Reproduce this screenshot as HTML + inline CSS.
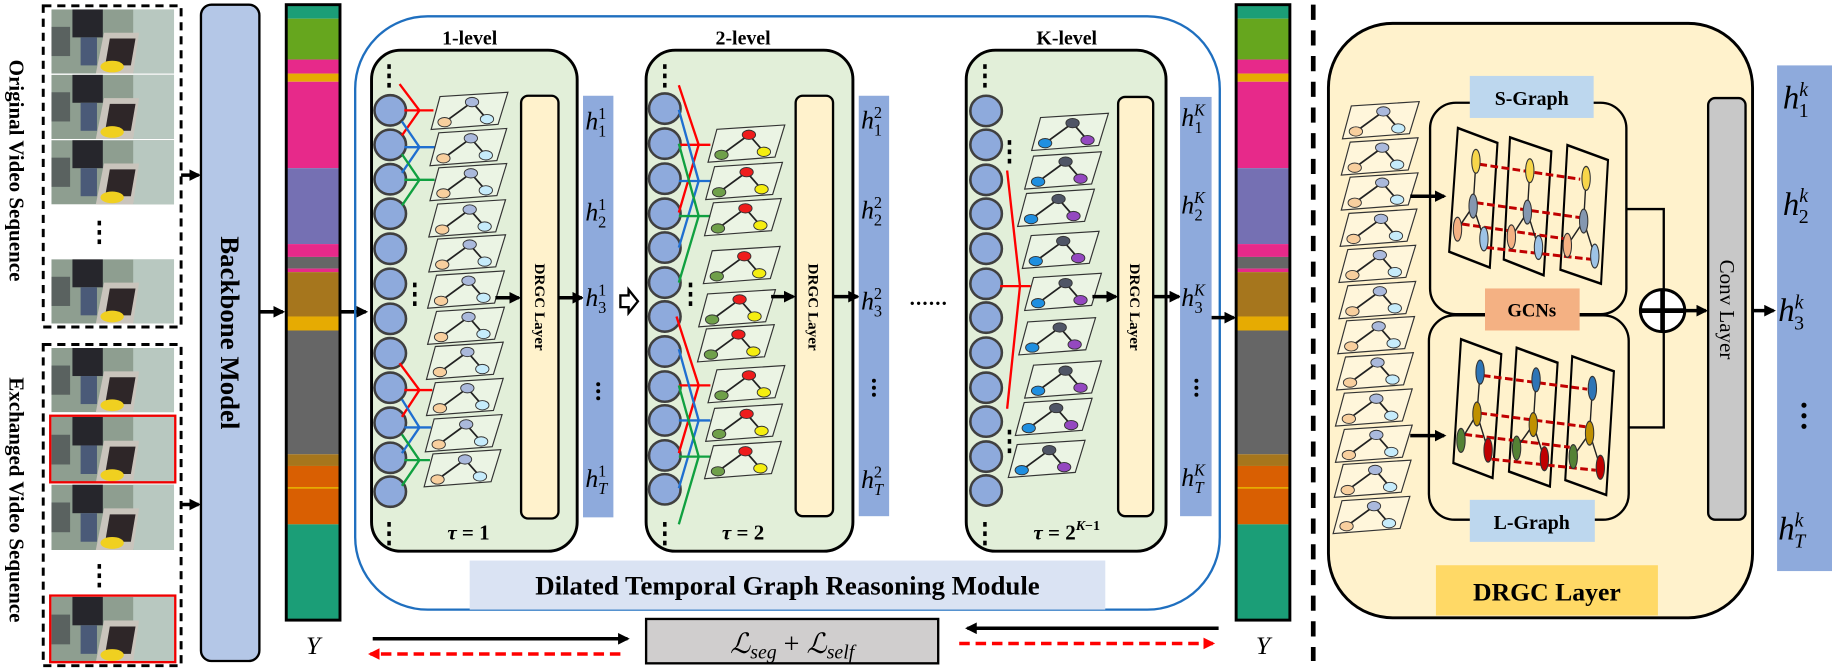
<!DOCTYPE html>
<html><head><meta charset="utf-8"><style>
html,body{margin:0;padding:0;background:#fff;}
svg{display:block;}
</style></head><body>
<svg width="1832" height="668" viewBox="0 0 1568 572" preserveAspectRatio="none" xmlns="http://www.w3.org/2000/svg" font-family="'Liberation Serif', serif">
<defs>
<marker id="ah" markerWidth="10" markerHeight="10" refX="8" refY="5" orient="auto" markerUnits="userSpaceOnUse"><path d="M0,0 L10,5 L0,10 z" fill="#000"/></marker>
<marker id="ahr" markerWidth="10" markerHeight="10" refX="8" refY="5" orient="auto" markerUnits="userSpaceOnUse"><path d="M0,0 L10,5 L0,10 z" fill="#f00"/></marker>
<symbol id="thumb" viewBox="0 0 105 55" width="105" height="55" preserveAspectRatio="none" overflow="hidden">
<rect width="105" height="55" fill="#8e9e90"/>
<rect x="70" width="35" height="55" fill="#b8c8c0"/>
<polygon points="45,20 75,20 70,55 38,55" fill="#c9c4bc"/>
<polygon points="50,25 72,25 68,48 46,48" fill="#2e2628"/>
<rect x="18" y="0" width="26" height="24" fill="#26262c"/>
<rect x="25" y="24" width="14" height="24" fill="#4a5a78"/>
<ellipse cx="52" cy="49" rx="10" ry="5" fill="#f0d020"/>
<rect x="0" y="15" width="16" height="25" fill="#5a6260"/>
</symbol>
<g id="cardA"><polygon points="7.6,3.7 65.7,0 57.3,27.5 0,31.9" fill="#fff" fill-opacity="0.3" stroke="#333" stroke-width="1"/><path d="M35,8.4 L11.5,25.6 M35,8.4 L47.8,23" stroke="#222" stroke-width="1.5"/><ellipse cx="35" cy="8.4" rx="5.7" ry="4" fill="#aab9dc" stroke="#333" stroke-width="0.8"/><ellipse cx="11.5" cy="25.6" rx="5.7" ry="4" fill="#f8cf9e" stroke="#333" stroke-width="0.8"/><ellipse cx="47.8" cy="23" rx="5.7" ry="4" fill="#c6ecfb" stroke="#333" stroke-width="0.8"/></g>
<g id="cardB"><polygon points="7.6,3.7 65.7,0 57.3,27.5 0,31.9" fill="#fff" fill-opacity="0.3" stroke="#333" stroke-width="1"/><path d="M35,8.4 L11.5,25.6 M35,8.4 L47.8,23" stroke="#222" stroke-width="1.5"/><ellipse cx="35" cy="8.4" rx="5.7" ry="4" fill="#ee1c1c" stroke="#333" stroke-width="0.8"/><ellipse cx="11.5" cy="25.6" rx="5.7" ry="4" fill="#6fa04a" stroke="#333" stroke-width="0.8"/><ellipse cx="47.8" cy="23" rx="5.7" ry="4" fill="#f5ee10" stroke="#333" stroke-width="0.8"/></g>
<g id="cardK"><polygon points="7.6,3.7 65.7,0 57.3,27.5 0,31.9" fill="#fff" fill-opacity="0.3" stroke="#333" stroke-width="1"/><path d="M35,8.4 L11.5,25.6 M35,8.4 L47.8,23" stroke="#222" stroke-width="1.5"/><ellipse cx="35" cy="8.4" rx="5.7" ry="4" fill="#4f5566" stroke="#333" stroke-width="0.8"/><ellipse cx="11.5" cy="25.6" rx="5.7" ry="4" fill="#1f8fe0" stroke="#333" stroke-width="0.8"/><ellipse cx="47.8" cy="23" rx="5.7" ry="4" fill="#9448c0" stroke="#333" stroke-width="0.8"/></g>
<g id="circ"><ellipse cx="0" cy="0" rx="13.5" ry="13" fill="#8eaadc" stroke="#404040" stroke-width="2.2"/></g>
<g id="vdots"><rect x="-1.5" y="0" width="3" height="4" fill="#000"/><rect x="-1.5" y="8" width="3" height="4" fill="#000"/><rect x="-1.5" y="16" width="3" height="4" fill="#000"/></g>
</defs>

<!-- left video sequences -->
<rect x="37" y="5" width="118" height="275" fill="none" stroke="#000" stroke-width="2.5" stroke-dasharray="7,5"/>
<use href="#thumb" x="44" y="8" width="105" height="55"/>
<use href="#thumb" x="44" y="64" width="105" height="55"/>
<use href="#thumb" x="44" y="120" width="105" height="55"/>
<use href="#vdots" x="85" y="189"/>
<use href="#thumb" x="44" y="222" width="105" height="55"/>
<rect x="37" y="295" width="118" height="275" fill="none" stroke="#000" stroke-width="2.5" stroke-dasharray="7,5"/>
<use href="#thumb" x="44" y="298" width="105" height="55"/>
<use href="#thumb" x="44" y="357" width="105" height="56"/>
<rect x="43" y="356" width="107" height="57" fill="none" stroke="#e00" stroke-width="2"/>
<use href="#thumb" x="44" y="415" width="105" height="56"/>
<use href="#vdots" x="85" y="483"/>
<use href="#thumb" x="44" y="511" width="105" height="56"/>
<rect x="43" y="510" width="107" height="57" fill="none" stroke="#e00" stroke-width="2"/>
<text transform="translate(8,146) rotate(90)" text-anchor="middle" font-weight="bold" font-size="18">Original Video Sequence</text>
<text transform="translate(8,428) rotate(90)" text-anchor="middle" font-weight="bold" font-size="18">Exchanged Video Sequence</text>
<line x1="155" y1="150" x2="170" y2="150" stroke="#000" stroke-width="3" marker-end="url(#ah)"/>
<line x1="155" y1="432" x2="170" y2="432" stroke="#000" stroke-width="3" marker-end="url(#ah)"/>

<!-- backbone -->
<rect x="172" y="4" width="50" height="562" rx="9" fill="#b4c7e7" stroke="#000" stroke-width="2"/>
<text transform="translate(189,285) rotate(90)" text-anchor="middle" font-weight="bold" font-size="23">Backbone Model</text>
<line x1="222" y1="267" x2="242" y2="267" stroke="#000" stroke-width="3" marker-end="url(#ah)"/>

<!-- color bar 1 -->
<g id="bar">
<rect x="245" y="4" width="46" height="12" fill="#1b9e77"/>
<rect x="245" y="16" width="46" height="35" fill="#66a61e"/>
<rect x="245" y="51" width="46" height="12" fill="#e7298a"/>
<rect x="245" y="63" width="46" height="7" fill="#e6ab02"/>
<rect x="245" y="70" width="46" height="74" fill="#e7298a"/>
<rect x="245" y="144" width="46" height="65" fill="#7570b3"/>
<rect x="245" y="209" width="46" height="11" fill="#e7298a"/>
<rect x="245" y="220" width="46" height="10" fill="#666"/>
<rect x="245" y="230" width="46" height="3" fill="#e7298a"/>
<rect x="245" y="233" width="46" height="38" fill="#a6761d"/>
<rect x="245" y="271" width="46" height="12" fill="#e6ab02"/>
<rect x="245" y="283" width="46" height="106" fill="#666"/>
<rect x="245" y="389" width="46" height="10" fill="#a6761d"/>
<rect x="245" y="399" width="46" height="50" fill="#d95f02"/>
<rect x="245" y="417" width="46" height="1.5" fill="#e6ab02"/>
<rect x="245" y="449" width="46" height="82" fill="#1b9e77"/>
<rect x="245" y="4" width="46" height="527" fill="none" stroke="#000" stroke-width="2.5"/>
</g>
<text x="268" y="560" text-anchor="middle" font-style="italic" font-size="22">Y</text>
<line x1="291" y1="267" x2="313" y2="267" stroke="#000" stroke-width="3" marker-end="url(#ah)"/>

<!-- module -->
<rect x="304" y="14" width="740" height="508" rx="62" fill="none" stroke="#1f6fbf" stroke-width="2"/>
<rect x="402" y="480" width="544" height="42" fill="#dae3f3"/>
<text x="674" y="509" text-anchor="middle" font-weight="bold" font-size="23">Dilated Temporal Graph Reasoning Module</text>

<!-- level 1 -->
<text x="402" y="38" text-anchor="middle" font-weight="bold" font-size="17">1-level</text>
<rect x="318" y="43" width="176" height="429" rx="25" fill="#e2efd9" stroke="#000" stroke-width="2.5"/>
<use href="#vdots" x="333" y="55"/><use href="#vdots" x="333" y="447"/>
<g>
<use href="#circ" x="334" y="94.5"/><use href="#circ" x="334" y="124"/><use href="#circ" x="334" y="153.5"/><use href="#circ" x="334" y="183"/><use href="#circ" x="334" y="213"/><use href="#circ" x="334" y="243"/><use href="#circ" x="334" y="273"/><use href="#circ" x="334" y="302.5"/><use href="#circ" x="334" y="332"/><use href="#circ" x="334" y="362"/><use href="#circ" x="334" y="392"/><use href="#circ" x="334" y="421"/>
</g>
<use href="#vdots" x="355" y="242"/>
<g fill="none" stroke-width="2">
<path d="M342,72 L359,94.5 L344,116 M346,94.5 L371,94.5" stroke="#f00"/>
<path d="M344,104 L359,126 L344,148 M346,126 L372,126" stroke="#1f6fd0"/>
<path d="M344,132 L359,154 L344,176 M346,154 L372,154" stroke="#10a040"/>
<path d="M342,311 L359,334 L344,357 M346,334 L370,334" stroke="#f00"/>
<path d="M344,342 L359,366 L344,388 M346,366 L369,366" stroke="#1f6fd0"/>
<path d="M344,372 L359,394 L344,416 M346,394 L368,394" stroke="#10a040"/>
</g>
<use href="#cardA" x="369" y="79"/><use href="#cardA" x="368" y="110"/><use href="#cardA" x="368" y="140"/><use href="#cardA" x="367" y="171"/><use href="#cardA" x="367" y="201"/><use href="#cardA" x="366" y="232"/><use href="#cardA" x="366" y="263"/><use href="#cardA" x="365" y="293"/><use href="#cardA" x="365" y="324"/><use href="#cardA" x="364" y="355"/><use href="#cardA" x="363" y="385"/>
<rect x="446" y="82" width="32" height="362" rx="6" fill="#fff2cc" stroke="#000" stroke-width="2"/>
<text transform="translate(458,263) rotate(90)" text-anchor="middle" font-weight="bold" font-size="13">DRGC Layer</text>
<line x1="424" y1="255" x2="444" y2="255" stroke="#000" stroke-width="3" marker-end="url(#ah)"/>
<line x1="478" y1="255" x2="498" y2="255" stroke="#000" stroke-width="3" marker-end="url(#ah)"/>
<rect x="499" y="82" width="26" height="361" fill="#8eaadc"/>
<text x="401" y="462" text-anchor="middle" font-weight="bold" font-size="18"><tspan font-style="italic">τ</tspan> = 1</text>
<path d="M531,253 L538,253 L538,248 L546,258 L538,268 L538,263 L531,263 Z" fill="#fff" stroke="#000" stroke-width="2"/>

<!-- level 2 -->
<text x="636" y="38" text-anchor="middle" font-weight="bold" font-size="17">2-level</text>
<rect x="553" y="43" width="177" height="429" rx="25" fill="#e2efd9" stroke="#000" stroke-width="2.5"/>
<use href="#vdots" x="569" y="55"/><use href="#vdots" x="569" y="447"/>
<use href="#circ" x="569" y="93"/><use href="#circ" x="569" y="123"/><use href="#circ" x="569" y="153"/><use href="#circ" x="569" y="183"/><use href="#circ" x="569" y="212"/><use href="#circ" x="569" y="242"/><use href="#circ" x="569" y="271"/><use href="#circ" x="569" y="301"/><use href="#circ" x="569" y="331"/><use href="#circ" x="569" y="360"/><use href="#circ" x="569" y="390"/><use href="#circ" x="569" y="419"/>
<use href="#vdots" x="591" y="242"/>
<g fill="none" stroke-width="2">
<path d="M581,73 L598,124 L581,182 M581,124 L608,124" stroke="#f00"/>
<path d="M581,94 L598,155 L581,212 M581,155 L608,155" stroke="#1f6fd0"/>
<path d="M581,123 L598,185 L581,242 M581,185 L608,185" stroke="#10a040"/>
<path d="M579,271 L598,330 L581,388 M581,330 L608,330" stroke="#f00"/>
<path d="M581,299 L598,360 L581,418 M581,360 L608,360" stroke="#1f6fd0"/>
<path d="M581,330 L598,391 L581,449 M581,391 L608,391" stroke="#10a040"/>
</g>
<use href="#cardB" x="606" y="107"/><use href="#cardB" x="604" y="139"/><use href="#cardB" x="603" y="170"/><use href="#cardB" x="602" y="211"/><use href="#cardB" x="598" y="248"/><use href="#cardB" x="597" y="278"/><use href="#cardB" x="606" y="313"/><use href="#cardB" x="604" y="346"/><use href="#cardB" x="603" y="378"/>
<rect x="681" y="82" width="32" height="360" rx="6" fill="#fff2cc" stroke="#000" stroke-width="2"/>
<text transform="translate(692,263) rotate(90)" text-anchor="middle" font-weight="bold" font-size="13">DRGC Layer</text>
<line x1="660" y1="254" x2="679" y2="254" stroke="#000" stroke-width="3" marker-end="url(#ah)"/>
<line x1="713" y1="254" x2="734" y2="254" stroke="#000" stroke-width="3" marker-end="url(#ah)"/>
<rect x="735" y="82" width="26" height="360" fill="#8eaadc"/>
<text x="636" y="462" text-anchor="middle" font-weight="bold" font-size="18"><tspan font-style="italic">τ</tspan> = 2</text>
<text x="795" y="261" text-anchor="middle" font-weight="bold" font-size="18" letter-spacing="1">......</text>

<!-- level K -->
<text x="913" y="38" text-anchor="middle" font-weight="bold" font-size="17">K-level</text>
<rect x="827" y="43" width="171" height="429" rx="25" fill="#e2efd9" stroke="#000" stroke-width="2.5"/>
<use href="#vdots" x="843" y="55"/><use href="#vdots" x="843" y="447"/>
<use href="#circ" x="844" y="95"/><use href="#circ" x="844" y="124"/><use href="#circ" x="844" y="154"/><use href="#circ" x="844" y="183"/><use href="#circ" x="844" y="213"/><use href="#circ" x="844" y="243"/><use href="#circ" x="844" y="272"/><use href="#circ" x="844" y="302"/><use href="#circ" x="844" y="332"/><use href="#circ" x="844" y="361"/><use href="#circ" x="844" y="391"/><use href="#circ" x="844" y="420"/>
<use href="#vdots" x="864" y="120"/><use href="#vdots" x="864" y="368"/>
<path d="M862,146 L873,245 L862,350 M856,245 L882,245" fill="none" stroke="#f00" stroke-width="2"/>
<use href="#cardK" x="883" y="97"/><use href="#cardK" x="877" y="130"/><use href="#cardK" x="871" y="162"/><use href="#cardK" x="875" y="198"/><use href="#cardK" x="877" y="234"/><use href="#cardK" x="872" y="272"/><use href="#cardK" x="877" y="309"/><use href="#cardK" x="869" y="341"/><use href="#cardK" x="863" y="377"/>
<rect x="957" y="83" width="30" height="359" rx="6" fill="#fff2cc" stroke="#000" stroke-width="2"/>
<text transform="translate(967,263) rotate(90)" text-anchor="middle" font-weight="bold" font-size="13">DRGC Layer</text>
<line x1="935" y1="254" x2="955" y2="254" stroke="#000" stroke-width="3" marker-end="url(#ah)"/>
<line x1="987" y1="254" x2="1009" y2="254" stroke="#000" stroke-width="3" marker-end="url(#ah)"/>
<rect x="1010" y="83" width="27" height="359" fill="#8eaadc"/>
<text x="913" y="462" text-anchor="middle" font-weight="bold" font-size="18"><tspan font-style="italic">τ</tspan> = 2<tspan font-size="12" dy="-8" font-style="italic">K</tspan><tspan font-size="12">−1</tspan></text>

<!-- h labels -->
<g font-style="italic" font-size="22">
<text x="501" y="111">h<tspan font-size="14" font-style="normal" dy="-9">1</tspan><tspan font-size="14" font-style="normal" dx="-7" dy="15">1</tspan></text>
<text x="501" y="189">h<tspan font-size="14" font-style="normal" dy="-9">1</tspan><tspan font-size="14" font-style="normal" dx="-7" dy="15">2</tspan></text>
<text x="501" y="262">h<tspan font-size="14" font-style="normal" dy="-9">1</tspan><tspan font-size="14" font-style="normal" dx="-7" dy="15">3</tspan></text>
<text x="501" y="417">h<tspan font-size="14" font-style="normal" dy="-9">1</tspan><tspan font-size="14" dx="-7" dy="15">T</tspan></text>
<text x="737" y="110">h<tspan font-size="14" font-style="normal" dy="-9">2</tspan><tspan font-size="14" font-style="normal" dx="-7" dy="15">1</tspan></text>
<text x="737" y="187">h<tspan font-size="14" font-style="normal" dy="-9">2</tspan><tspan font-size="14" font-style="normal" dx="-7" dy="15">2</tspan></text>
<text x="737" y="265">h<tspan font-size="14" font-style="normal" dy="-9">2</tspan><tspan font-size="14" font-style="normal" dx="-7" dy="15">3</tspan></text>
<text x="737" y="418">h<tspan font-size="14" font-style="normal" dy="-9">2</tspan><tspan font-size="14" dx="-7" dy="15">T</tspan></text>
<text x="1011" y="108">h<tspan font-size="14" dy="-9">K</tspan><tspan font-size="14" font-style="normal" dx="-9" dy="15">1</tspan></text>
<text x="1011" y="183">h<tspan font-size="14" dy="-9">K</tspan><tspan font-size="14" font-style="normal" dx="-9" dy="15">2</tspan></text>
<text x="1011" y="262">h<tspan font-size="14" dy="-9">K</tspan><tspan font-size="14" font-style="normal" dx="-9" dy="15">3</tspan></text>
<text x="1011" y="416">h<tspan font-size="14" dy="-9">K</tspan><tspan font-size="14" dx="-9" dy="15">T</tspan></text>
</g>
<g fill="#000">
<circle cx="512" cy="329" r="1.7"/><circle cx="512" cy="335" r="1.7"/><circle cx="512" cy="341" r="1.7"/>
<circle cx="748" cy="326" r="1.7"/><circle cx="748" cy="332" r="1.7"/><circle cx="748" cy="338" r="1.7"/>
<circle cx="1024" cy="326" r="1.7"/><circle cx="1024" cy="332" r="1.7"/><circle cx="1024" cy="338" r="1.7"/>
</g>

<!-- color bar 2 -->
<line x1="1037" y1="272" x2="1056" y2="272" stroke="#000" stroke-width="3" marker-end="url(#ah)"/>
<use href="#bar" x="813" y="0"/>
<text x="1081" y="560" text-anchor="middle" font-style="italic" font-size="22">Y</text>

<!-- loss -->
<line x1="319" y1="547" x2="537" y2="547" stroke="#000" stroke-width="3" marker-end="url(#ah)"/>
<line x1="531" y1="560" x2="317" y2="560" stroke="#f00" stroke-width="3" stroke-dasharray="9,5" marker-end="url(#ahr)"/>
<rect x="553" y="530" width="250" height="38" fill="#d0cece" stroke="#000" stroke-width="2"/>
<text x="678" y="559" text-anchor="middle" font-size="24" font-style="italic">ℒ<tspan font-size="17" dy="5">seg</tspan><tspan dy="-5" font-style="normal"> + </tspan>ℒ<tspan font-size="17" dy="5">self</tspan></text>
<line x1="1043" y1="538" x2="828" y2="538" stroke="#000" stroke-width="3" marker-end="url(#ah)"/>
<line x1="821" y1="551" x2="1038" y2="551" stroke="#f00" stroke-width="3" stroke-dasharray="9,5" marker-end="url(#ahr)"/>

<!-- separator -->
<line x1="1124" y1="4" x2="1124" y2="566" stroke="#000" stroke-width="4" stroke-dasharray="13,9"/>

<!-- DRGC right panel -->
<rect x="1137" y="20" width="363" height="509" rx="55" fill="#fff2cc" stroke="#000" stroke-width="2.5"/>
<rect x="1224" y="88" width="168" height="181" rx="22" fill="none" stroke="#000" stroke-width="2"/>
<rect x="1223" y="270" width="171" height="175" rx="22" fill="none" stroke="#000" stroke-width="2"/>
<rect x="1258" y="65" width="106" height="36" fill="#bdd7ee"/>
<text x="1311" y="90" text-anchor="middle" font-weight="bold" font-size="17">S-Graph</text>
<rect x="1258" y="428" width="107" height="36" fill="#bdd7ee"/>
<text x="1311" y="453" text-anchor="middle" font-weight="bold" font-size="17">L-Graph</text>
<rect x="1271" y="247" width="81" height="36" fill="#f4b183"/>
<text x="1311" y="271" text-anchor="middle" font-weight="bold" font-size="16">GCNs</text>
<use href="#cardA" x="1149" y="87"/><use href="#cardA" x="1148" y="118"/><use href="#cardA" x="1148" y="148"/><use href="#cardA" x="1147" y="179"/><use href="#cardA" x="1146" y="210"/><use href="#cardA" x="1146" y="241"/><use href="#cardA" x="1145" y="271"/><use href="#cardA" x="1144" y="302"/><use href="#cardA" x="1143" y="333"/><use href="#cardA" x="1143" y="364"/><use href="#cardA" x="1142" y="394"/><use href="#cardA" x="1141" y="425"/>
<line x1="1207" y1="168" x2="1236" y2="168" stroke="#000" stroke-width="3" marker-end="url(#ah)"/>
<line x1="1207" y1="373" x2="1236" y2="373" stroke="#000" stroke-width="3" marker-end="url(#ah)"/>
<g transform="translate(1113,0) scale(0.2975,0.3654)">
<g fill="none" stroke="#000" stroke-width="6">
<polygon points="453,300 567,335 545,627 428,590"/>
<polygon points="603,322 722,355 700,645 585,608"/>
<polygon points="768,340 885,375 865,665 748,632"/>
<polygon points="462,795 578,830 553,1120 440,1085"/>
<polygon points="622,815 740,850 718,1140 600,1105"/>
<polygon points="782,835 902,870 880,1160 762,1125"/>
</g>
<g stroke="#c00000" stroke-width="7" stroke-dasharray="22,10" fill="none">
<path d="M515,385 L805,420 M505,475 L805,510 M465,525 L765,560 M535,580 L840,608"/>
<path d="M525,880 L825,912 M515,968 L820,1000 M472,1018 L775,1048 M550,1076 L850,1102"/>
</g>
<g stroke="#222" stroke-width="4" fill="none">
<path d="M505,378 L497,483 L452,537 M497,483 L528,560 M660,400 L653,497 L607,555 M653,497 L685,580 M822,418 L815,518 L768,575 M815,518 L847,600"/>
<path d="M517,872 L508,970 L462,1032 M508,970 L540,1055 M678,890 L670,995 L622,1050 M670,995 L702,1075 M840,910 L832,1015 L785,1070 M832,1015 L863,1095"/>
</g>
<g stroke="#333" stroke-width="3">
<ellipse cx="505" cy="378" rx="12" ry="28" fill="#f7d64a"/><ellipse cx="660" cy="400" rx="12" ry="28" fill="#f7d64a"/><ellipse cx="822" cy="418" rx="12" ry="28" fill="#f7d64a"/>
<ellipse cx="497" cy="483" rx="12" ry="28" fill="#8497b0"/><ellipse cx="653" cy="497" rx="12" ry="28" fill="#8497b0"/><ellipse cx="815" cy="518" rx="12" ry="28" fill="#8497b0"/>
<ellipse cx="452" cy="537" rx="12" ry="28" fill="#f4b183"/><ellipse cx="607" cy="555" rx="12" ry="28" fill="#f4b183"/><ellipse cx="768" cy="575" rx="12" ry="28" fill="#f4b183"/>
<ellipse cx="528" cy="560" rx="12" ry="28" fill="#9dc3e6"/><ellipse cx="685" cy="580" rx="12" ry="28" fill="#9dc3e6"/><ellipse cx="847" cy="600" rx="12" ry="28" fill="#9dc3e6"/>
<ellipse cx="517" cy="872" rx="12" ry="28" fill="#2e75b6"/><ellipse cx="678" cy="890" rx="12" ry="28" fill="#2e75b6"/><ellipse cx="840" cy="910" rx="12" ry="28" fill="#2e75b6"/>
<ellipse cx="508" cy="970" rx="12" ry="28" fill="#bf9000"/><ellipse cx="670" cy="995" rx="12" ry="28" fill="#bf9000"/><ellipse cx="832" cy="1015" rx="12" ry="28" fill="#bf9000"/>
<ellipse cx="462" cy="1032" rx="12" ry="28" fill="#548235"/><ellipse cx="622" cy="1050" rx="12" ry="28" fill="#548235"/><ellipse cx="785" cy="1070" rx="12" ry="28" fill="#548235"/>
<ellipse cx="540" cy="1055" rx="12" ry="28" fill="#c00000"/><ellipse cx="702" cy="1075" rx="12" ry="28" fill="#c00000"/><ellipse cx="863" cy="1095" rx="12" ry="28" fill="#c00000"/>
</g>
</g>
<path d="M1392,179 L1424,179 L1424,366 L1394,366" fill="none" stroke="#000" stroke-width="2"/>
<ellipse cx="1423" cy="266" rx="19" ry="18" fill="#fff" stroke="#000" stroke-width="2.5"/>
<path d="M1404,266 L1442,266 M1423,248 L1423,284" stroke="#000" stroke-width="4"/>
<line x1="1442" y1="266" x2="1460" y2="266" stroke="#000" stroke-width="3" marker-end="url(#ah)"/>
<rect x="1462" y="84" width="32" height="361" rx="6" fill="#c8c8c8" stroke="#000" stroke-width="2"/>
<text transform="translate(1472,265) rotate(90)" text-anchor="middle" font-size="18">Conv Layer</text>
<line x1="1500" y1="266" x2="1518" y2="266" stroke="#000" stroke-width="3" marker-end="url(#ah)"/>
<rect x="1229" y="484" width="190" height="43" fill="#ffd966"/>
<text x="1324" y="514" text-anchor="middle" font-weight="bold" font-size="22">DRGC Layer</text>
<rect x="1521" y="56" width="47" height="433" fill="#8eaadc"/>
<g font-style="italic" font-size="28">
<text x="1526" y="93">h<tspan font-size="17" dy="-11">k</tspan><tspan font-size="17" font-style="normal" dx="-8" dy="18">1</tspan></text>
<text x="1526" y="184">h<tspan font-size="17" dy="-11">k</tspan><tspan font-size="17" font-style="normal" dx="-8" dy="18">2</tspan></text>
<text x="1522" y="275">h<tspan font-size="17" dy="-11">k</tspan><tspan font-size="17" font-style="normal" dx="-8" dy="18">3</tspan></text>
<text x="1522" y="462">h<tspan font-size="17" dy="-11">k</tspan><tspan font-size="17" dx="-8" dy="18">T</tspan></text>
</g>
<g fill="#000"><circle cx="1544" cy="347" r="2.2"/><circle cx="1544" cy="356" r="2.2"/><circle cx="1544" cy="365" r="2.2"/></g>
</svg>
</body></html>
